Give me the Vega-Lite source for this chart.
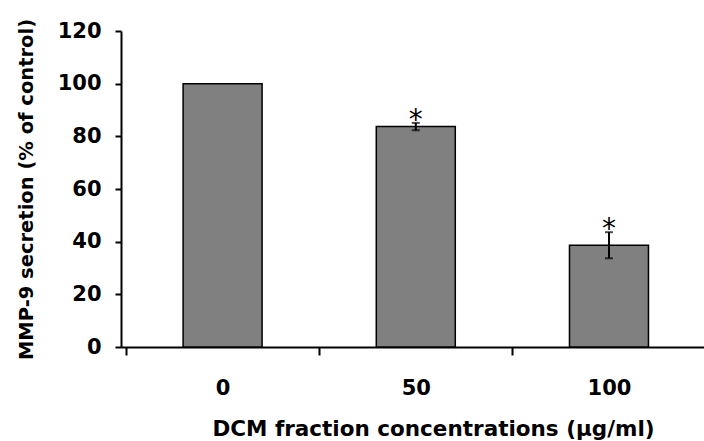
{
  "$schema": "https://vega.github.io/schema/vega-lite/v6.json",
  "autosize": {"type": "none"},
  "padding": {"left": 121, "top": 31, "right": 0, "bottom": 94},
  "width": 583,
  "height": 316,
  "background": "white",
  "config": {
    "view": {"stroke": null},
    "font": "DejaVu Sans",
    "axis": {
      "domainColor": "black",
      "domainWidth": 2,
      "tickColor": "black",
      "tickWidth": 2,
      "grid": false,
      "labelFont": "DejaVu Sans",
      "labelFontWeight": "bold",
      "labelFontSize": 21,
      "labelColor": "black",
      "titleFont": "DejaVu Sans",
      "titleFontWeight": "bold",
      "titleFontSize": 21.5,
      "titleColor": "black"
    }
  },
  "data": {
    "values": [
      {"conc": 0, "value": 100, "lo": null, "hi": null, "star": ""},
      {"conc": 50, "value": 83.7, "lo": 82.3, "hi": 85.1, "star": "*"},
      {"conc": 100, "value": 38.6, "lo": 33.7, "hi": 43.6, "star": "*"}
    ]
  },
  "layer": [
    {
      "mark": {"type": "bar", "size": 79, "fill": "#808080", "stroke": "black", "strokeWidth": 1.5},
      "encoding": {
        "x": {
          "field": "conc",
          "type": "quantitative",
          "scale": {"domain": [-25, 123.3], "nice": false, "zero": false},
          "axis": {
            "values": [-25, 0, 25, 50, 75, 100],
            "labelExpr": "datum.value % 50 === 0 ? datum.label : ''",
            "tickOpacity": {"condition": {"test": "datum.value % 50 === 0", "value": 0}, "value": 1},
            "tickSize": 8,
            "labelPadding": 22,
            "labelOverlap": false,
            "title": "DCM fraction concentrations (µg/ml)",
            "titlePadding": 20,
            "titleX": 312
          }
        },
        "y": {
          "field": "value",
          "type": "quantitative",
          "scale": {"domain": [0, 120], "nice": false},
          "axis": {
            "values": [0, 20, 40, 60, 80, 100, 120],
            "tickSize": 6,
            "labelPadding": 14,
            "title": "MMP-9 secretion (% of control)",
            "titleFontSize": 19.5,
            "titlePadding": 21
          }
        }
      }
    },
    {
      "mark": {"type": "rule", "color": "black", "strokeWidth": 2},
      "encoding": {
        "x": {"field": "conc", "type": "quantitative"},
        "y": {"field": "lo", "type": "quantitative"},
        "y2": {"field": "hi"}
      }
    },
    {
      "mark": {"type": "tick", "orient": "horizontal", "color": "black", "thickness": 2, "size": 8},
      "encoding": {
        "x": {"field": "conc", "type": "quantitative"},
        "y": {"field": "lo", "type": "quantitative"}
      }
    },
    {
      "mark": {"type": "tick", "orient": "horizontal", "color": "black", "thickness": 2, "size": 8},
      "encoding": {
        "x": {"field": "conc", "type": "quantitative"},
        "y": {"field": "hi", "type": "quantitative"}
      }
    },
    {
      "mark": {"type": "text", "fontSize": 28, "font": "DejaVu Sans", "baseline": "alphabetic", "align": "center", "dy": 6, "color": "black"},
      "encoding": {
        "x": {"field": "conc", "type": "quantitative"},
        "y": {"field": "hi", "type": "quantitative"},
        "text": {"field": "star"}
      }
    }
  ]
}
